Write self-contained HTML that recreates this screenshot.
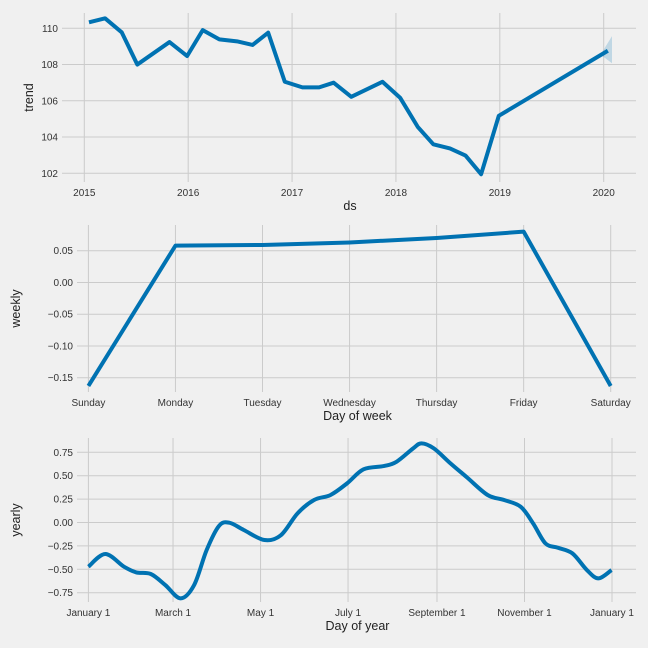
<!DOCTYPE html>
<html><head><meta charset="utf-8"><style>
html,body{margin:0;padding:0;background:#f0f0f0;}
svg{display:block;font-family:"Liberation Sans","DejaVu Sans",sans-serif;}
.tick{font-size:10px;fill:#333;}
.lab{font-size:12.5px;fill:#222;}
.grid{stroke:#cbcbcb;stroke-width:1;}
.ln{fill:none;stroke:#0072B2;stroke-width:4;stroke-linejoin:round;stroke-linecap:butt;}
</style></head><body>
<svg id="c" width="648" height="648">
<rect width="648" height="648" fill="#f0f0f0"/>
</svg>
<script>
// trend panel data
const trendYears=[2015.045,2015.2,2015.36,2015.51,2015.82,2015.99,2016.14,2016.30,2016.47,2016.62,2016.77,2016.93,2017.10,2017.26,2017.40,2017.57,2017.87,2018.04,2018.21,2018.36,2018.52,2018.67,2018.82,2018.99,2020.04];
const trendValues=[110.33,110.55,109.78,108.0,109.24,108.47,109.9,109.39,109.28,109.08,109.76,107.05,106.74,106.74,107.0,106.22,107.05,106.17,104.56,103.6,103.37,102.98,101.95,105.17,108.76];
const trendBandX=[2019.97,2020.08];
const trendBandUpper=[108.55,109.57];
const trendBandLower=[108.55,108.07];
const trendXTicks=[2015,2016,2017,2018,2019,2020];
const trendYTicks=[102,104,106,108,110];
// weekly panel data
const weekDays=["Sunday","Monday","Tuesday","Wednesday","Thursday","Friday","Saturday"];
const weeklyValues=[-0.163,0.058,0.059,0.063,0.070,0.080,-0.163];
const weeklyYTicks=[-0.15,-0.10,-0.05,0.00,0.05];
// yearly panel data
const yearDays=[0,11.8,24.8,33.4,43.5,53.6,64.2,73.7,82.4,91,98.2,108.3,122.7,134.2,145.8,157.3,168.8,180.3,191.8,206.3,214.9,226.4,232.2,240.8,252.4,263.9,278.3,289.8,301.3,310,318.6,327.3,337.4,347.5,355.5,364.7];
const yearlyValues=[-0.472,-0.337,-0.472,-0.533,-0.55,-0.668,-0.81,-0.668,-0.295,-0.037,-0.002,-0.08,-0.187,-0.135,0.098,0.24,0.294,0.418,0.568,0.604,0.65,0.792,0.846,0.792,0.632,0.482,0.294,0.24,0.169,-0.009,-0.223,-0.27,-0.33,-0.508,-0.597,-0.508];
const yearTickDays=[0,59,120,181,243,304,365];
const yearTickLabels=["January 1","March 1","May 1","July 1","September 1","November 1","January 1"];
const yearlyYTicks=[-0.75,-0.5,-0.25,0,0.25,0.5,0.75];

const NS="http://www.w3.org/2000/svg";
const svg=document.getElementById('c');
function mk(tag,attrs,parent,text){const e=document.createElementNS(NS,tag);for(const k in attrs)e.setAttribute(k,attrs[k]);if(text!==undefined)e.textContent=text;(parent||svg).appendChild(e);return e;}
function lin(d0,d1,r0,r1){return v=>r0+(v-d0)/(d1-d0)*(r1-r0);}
function smooth(pts){let d="M"+pts[0][0]+","+pts[0][1];for(let i=0;i<pts.length-1;i++){const p0=pts[i-1]||pts[i],p1=pts[i],p2=pts[i+1],p3=pts[i+2]||p2;const c1x=p1[0]+(p2[0]-p0[0])/6,c1y=p1[1]+(p2[1]-p0[1])/6,c2x=p2[0]-(p3[0]-p1[0])/6,c2y=p2[1]-(p3[1]-p1[1])/6;d+=` C${c1x},${c1y} ${c2x},${c2y} ${p2[0]},${p2[1]}`;}return d;}

function panel(name,L,R,T,B,xs,ys,xt,xtl,yt,ytl,xlab,ylab,ylabX){
  const g=mk('g',{});
  
  
  xt.forEach((v,i)=>{const x=xs(v);
    const l=mk('line',{x1:x,x2:x,y1:T,y2:B,class:'grid'},g);
    
    const t=mk('text',{x:x,y:B+14,class:'tick','text-anchor':'middle'},g,xtl[i]);
    });
  yt.forEach((v,i)=>{const y=ys(v);
    const l=mk('line',{x1:L,x2:R,y1:y,y2:y,class:'grid'},g);
    
    const t=mk('text',{x:L-4,y:y+3.5,class:'tick','text-anchor':'end'},g,ytl[i]);
    });
  const xl=mk('text',{x:(L+R)/2+1,y:B+28,class:'lab','text-anchor':'middle'},g,xlab);
  
  const cy=(T+B)/2;
  const yl=mk('text',{x:ylabX,y:cy,class:'lab','text-anchor':'middle',transform:`rotate(-90 ${ylabX} ${cy})`},g,ylab);
  
  return g;
}
function fmt2(v){return (v<0?"\u2212":"")+Math.abs(v).toFixed(2);}

// Trend
{const L=62,R=636,T=13,B=182;
 const xs=lin(2015,2020,84.3,603.7), ys=lin(110,102,28.3,173.3);
 const g=panel('trend',L,R,T,B,xs,ys,trendXTicks,trendXTicks.map(String),trendYTicks,trendYTicks.map(String),'ds','trend',33);
 let d="M"+xs(trendBandX[0])+","+ys(trendBandUpper[0])+" L"+xs(trendBandX[1])+","+ys(trendBandUpper[1])+" L"+xs(trendBandX[1])+","+ys(trendBandLower[1])+" L"+xs(trendBandX[0])+","+ys(trendBandLower[0])+"Z";
 const band=mk('path',{d:d,fill:'#0072B2','fill-opacity':0.2},g);
 
 const p=mk('path',{class:'ln',d:trendYears.map((v,i)=>(i?'L':'M')+xs(v)+','+ys(trendValues[i])).join(' ')},g);
 }

// Weekly
{const L=77,R=636,T=225,B=392;
 const xs=lin(0,6,88.4,610.7), ys=lin(0.05,-0.15,250.7,377.7);
 const g=panel('weekly',L,R,T,B,xs,ys,weekDays.map((d,i)=>i),weekDays,weeklyYTicks,weeklyYTicks.map(fmt2),'Day of week','weekly',20);
 const p=mk('path',{class:'ln',d:weeklyValues.map((v,i)=>(i?'L':'M')+xs(i)+','+ys(v)).join(' ')},g);
 }

// Yearly
{const L=77,R=636,T=438,B=602;
 const xs=lin(0,365,88.4,612), ys=lin(0.75,-0.75,452.3,592.7);
 const g=panel('yearly',L,R,T,B,xs,ys,yearTickDays,yearTickLabels,yearlyYTicks,yearlyYTicks.map(fmt2),'Day of year','yearly',20);
 const p=mk('path',{class:'ln',d:smooth(yearDays.map((v,i)=>[xs(v),ys(yearlyValues[i])]))},g);
 }
</script>
</body></html>
